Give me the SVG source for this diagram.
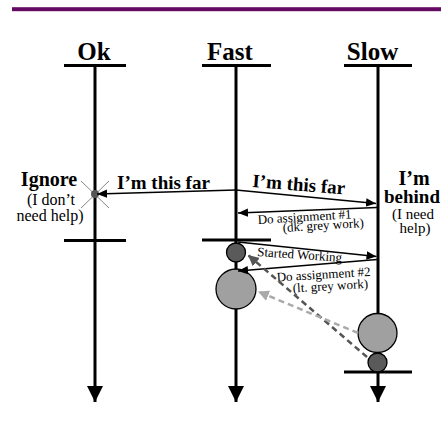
<svg xmlns="http://www.w3.org/2000/svg" width="441" height="423" viewBox="0 0 441 423">
<style>
.t{font-family:"Liberation Serif","Times New Roman",serif;fill:#000}
.b{font-weight:bold}
.life{stroke:#000;stroke-width:3;fill:none}
.bar{stroke:#000;stroke-width:3}
.msg{stroke:#000;stroke-width:1.6;fill:none}
</style>
<defs>
<marker id="ah" markerUnits="userSpaceOnUse" markerWidth="10" markerHeight="10" viewBox="0 0 10 10" refX="10" refY="5" orient="auto"><path d="M0,0.8 L10,5 L0,9.2 Z" fill="#000"/></marker>
<marker id="big" markerUnits="userSpaceOnUse" markerWidth="16" markerHeight="16" viewBox="0 0 16 16" refX="16" refY="8" orient="auto"><path d="M0,0 L16,8 L0,16 Z" fill="#000"/></marker>
<marker id="dg" markerUnits="userSpaceOnUse" markerWidth="11" markerHeight="11" viewBox="0 0 11 11" refX="11" refY="5.5" orient="auto"><path d="M0,0 L11,5.5 L0,11 Z" fill="#555"/></marker>
<marker id="lg" markerUnits="userSpaceOnUse" markerWidth="11" markerHeight="11" viewBox="0 0 11 11" refX="11" refY="5.5" orient="auto"><path d="M0,0 L11,5.5 L0,11 Z" fill="#aaa"/></marker>
</defs>
<rect x="12" y="7.2" width="429" height="4" fill="#650a62"/>

<g id="ok">
<text class="t b" x="94" y="60" font-size="25" text-anchor="middle">Ok</text>
<line class="bar" x1="64" y1="65.5" x2="126" y2="65.5"/>
<line class="life" x1="95" y1="65" x2="95" y2="402" marker-end="url(#big)"/>
<line class="bar" x1="64" y1="240.5" x2="126" y2="240.5"/>
<text class="t b" x="49" y="186" font-size="20" text-anchor="middle">Ignore</text>
<text class="t" x="51" y="205" font-size="16" text-anchor="middle">(I don’t</text>
<text class="t" x="50" y="221" font-size="16" text-anchor="middle">need help)</text>
<line x1="81" y1="181" x2="109" y2="208" stroke="#888" stroke-width="1"/>
<line x1="109" y1="181" x2="81" y2="208" stroke="#888" stroke-width="1"/>
<circle cx="95" cy="194" r="4" fill="#555"/>
</g>

<g id="fast">
<text class="t b" x="230" y="60" font-size="25" text-anchor="middle">Fast</text>
<line class="bar" x1="202" y1="65.5" x2="271" y2="65.5"/>
<line class="life" x1="236" y1="65" x2="236" y2="402" marker-end="url(#big)"/>
<line class="bar" x1="202" y1="240" x2="271" y2="240"/>
<circle cx="236" cy="252.5" r="9.5" fill="#5a5a5a" stroke="#000" stroke-width="1.3"/>
<circle cx="236" cy="289" r="20" fill="#a0a0a0" stroke="#000" stroke-width="1.3"/>
</g>

<g id="slow">
<text class="t b" x="372.5" y="60" font-size="25" text-anchor="middle">Slow</text>
<line class="bar" x1="344" y1="65.5" x2="412" y2="65.5"/>
<line class="life" x1="378" y1="65" x2="378" y2="402" marker-end="url(#big)"/>
<line class="bar" x1="344" y1="372" x2="412" y2="372"/>
<circle cx="377.5" cy="333" r="19.5" fill="#a0a0a0" stroke="#000" stroke-width="1.3"/>
<circle cx="377.5" cy="362.5" r="9.5" fill="#5a5a5a" stroke="#000" stroke-width="1.3"/>
<text class="t b" x="414" y="185" font-size="20" text-anchor="middle">I’m</text>
<text class="t b" x="412" y="203" font-size="19" text-anchor="middle">behind</text>
<text class="t" x="413" y="219" font-size="15" text-anchor="middle">(I need</text>
<text class="t" x="415" y="233" font-size="15" text-anchor="middle">help)</text>
</g>

<g id="connectors">
<line class="msg" x1="236" y1="190" x2="97" y2="194" marker-end="url(#ah)"/>
<text class="t b" x="117" y="189" font-size="19">I’m this far</text>
<line class="msg" x1="236" y1="190" x2="376" y2="203.5" marker-end="url(#ah)"/>
<text class="t b" x="252" y="187" font-size="19" transform="rotate(4.5 252 187)">I’m this far</text>
<line class="msg" x1="377" y1="207.5" x2="238" y2="213" marker-end="url(#ah)"/>
<text class="t" x="258" y="224" font-size="13" transform="rotate(-3.5 258 224)">Do assignment #1</text>
<text class="t" x="283" y="232" font-size="13" transform="rotate(-3.5 283 232)">(dk. grey work)</text>
<line class="msg" x1="238" y1="242" x2="376.5" y2="256.5" marker-end="url(#ah)"/>
<text class="t" x="257" y="256" font-size="13" transform="rotate(4 257 256)">Started Working</text>
<line class="msg" x1="377" y1="259.5" x2="238" y2="271" marker-end="url(#ah)"/>
<text class="t" x="277" y="281.5" font-size="13" transform="rotate(-3.5 277 281.5)">Do assignment #2</text>
<text class="t" x="293" y="292.5" font-size="13" transform="rotate(-3.5 293 292.5)">(lt. grey work)</text>
<line x1="367" y1="357" x2="248" y2="255" stroke="#555" stroke-width="2.5" stroke-dasharray="6 4" marker-end="url(#dg)"/>
<line x1="358" y1="333" x2="258" y2="291.5" stroke="#aaa" stroke-width="2.5" stroke-dasharray="6 4" marker-end="url(#lg)"/>
</g>
</svg>
